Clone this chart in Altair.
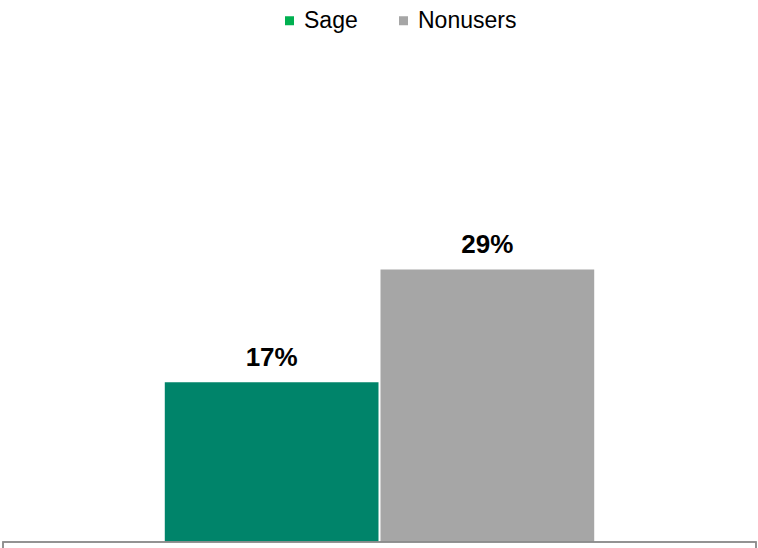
import altair as alt
import pandas as pd

series = ["Sage", "Nonusers"]
values = [0.17, 0.29]
bar_colors = ["#00846A", "#A6A6A6"]
legend_colors = ["#00B050", "#A6A6A6"]

df = pd.DataFrame({"series": series, "value": values})

W, H = 753, 470

x_enc = alt.X("series:N", sort=series, axis=None,
              scale=alt.Scale(paddingInner=0.0093, paddingOuter=0.75))
y_scale = alt.Scale(domain=[0, 0.5])

base = alt.Chart(df)

bars = base.mark_bar().encode(
    x=x_enc,
    y=alt.Y("value:Q", axis=None, scale=y_scale),
    fill=alt.Fill("series:N", sort=series,
                  scale=alt.Scale(domain=series, range=bar_colors), legend=None),
)

labels = base.mark_text(fontSize=26, fontWeight="bold", font="Liberation Sans",
                        color="black", baseline="alphabetic", dy=-16).encode(
    x=x_enc,
    y=alt.Y("value:Q", scale=y_scale),
    text=alt.Text("value:Q", format=".0%"),
)

legend_layer = base.mark_square(opacity=0).encode(
    x=x_enc,
    y=alt.Y("value:Q", scale=y_scale),
    color=alt.Color("series:N", sort=series,
                    scale=alt.Scale(domain=series, range=legend_colors),
                    legend=alt.Legend(title=None, orient="none", direction="horizontal",
                                      legendX=275, legendY=-63,
                                      symbolType="square", symbolSize=81,
                                      symbolOpacity=1, symbolStrokeWidth=0,
                                      labelFontSize=23, labelFont="Liberation Sans",
                                      labelColor="black", labelOffset=3,
                                      columnPadding=34)),
)

frame = base.mark_rect(fill=None, stroke="#8c8c8c", strokeWidth=1.5).encode(
    x=alt.value(0), x2=alt.value(W),
    y=alt.datum(0, scale=y_scale), y2=alt.value(H + 40),
)

chart = alt.layer(bars, labels, legend_layer, frame).resolve_scale(
    color="independent", fill="independent"
).properties(
    width=W, height=H,
    padding={"left": 3, "top": 72, "right": 2, "bottom": 6},
    autosize=alt.AutoSizeParams(type="none"),
).configure_view(stroke=None)

chart.save("out.html", embed_options={"renderer": "svg", "actions": False})
